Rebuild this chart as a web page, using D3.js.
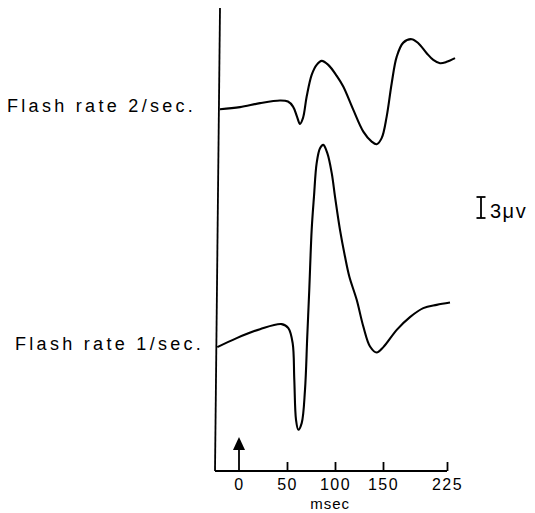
<!DOCTYPE html>
<html>
<head>
<meta charset="utf-8">
<script src="https://cdn.jsdelivr.net/npm/d3@7"></script>
<style>
  html, body { margin: 0; padding: 0; background: #fff; }
  svg { display: block; }
  text { font-family: "Liberation Sans", "DejaVu Sans", sans-serif; fill: #000; }
</style>
</head>
<body>
<svg id="chart" width="535" height="513"></svg>
<script>
// ---- data (time in msec after flash, amplitude in µV relative to pre-flash baseline) ----
const traceLabels = ["Flash rate 2/sec.", "Flash rate 1/sec."];

const time2 = [-19.8, 1.0, 21.9, 42.7, 51.0, 56.3, 60.4, 63.5, 66.7, 70.5, 75.7, 80.9, 86.1, 93.0,
  101.8, 108.6, 119.1, 129.5, 138.2, 143.4, 148.6, 154.3, 160.2, 166.1, 173.8, 183.6, 191.4,
  201.2, 208.9, 216.8, 224.6, 234.4];
const volt2 = [0, 0.29, 0.86, 1.23, 1.09, 0.37, -1.06, -2.1, -1.24, 1.8, 4.9, 6.33, 6.9, 6.33,
  4.76, 3.23, -0.1, -3.2, -4.63, -5.0, -4.14, -1.06, 3.71, 7.51, 9.51, 10.0, 9.43,
  8.0, 7.04, 6.57, 6.76, 7.29];

const time1 = [-22.6, -2.4, 21.9, 44.5, 51.4, 55.9, 57.6, 59.4, 61.8, 65.3, 68.75, 71.1, 73.2,
  75.7, 78.1, 80.9, 84.4, 87.8, 92.0, 96.6, 100, 105.2, 110.4, 114.9, 122.6, 129.5, 136.5,
  143.4, 150.4, 166.1, 181.6, 197.2, 212.9, 228.5];
const volt1 = [0, 1.29, 2.57, 3.29, 2.71, 0.57, -4.67, -10.39, -11.81, -10.86, -6.1, 1.51, 8.19,
  16.76, 21.51, 26.29, 28.43, 28.9, 27.71, 24.86, 21.51, 16.76, 12.94, 10.09, 6.76, 2.94, 0.09,
  -0.77, 0, 2.47, 4.29, 5.57, 6.04, 6.37];

const tickValues = [0, 50, 100, 150, 225];
const tickLabels = ["0", "50", "100", "150", "225"];
const xAxisTitle = "msec";
const scaleBarValue = 3;          // µV
const scaleBarLabel = "3\u03bcv";

// ---- layout ----
const svg = d3.select("#chart");
const baseY = 471;
const traceBaselines = [51.7, 17.7];   // vertical placement of each trace, in µV above the time axis

const x = d3.scaleLinear().domain([0, 150, 225]).range([239, 383, 447]);
const y = d3.scaleLinear().domain([0, 67.3]).range([baseY, 0]);

const line = d3.line()
  .x(d => x(d[0]))
  .y(d => y(d[1]))
  .curve(d3.curveCatmullRom.alpha(0.5));

const series = [
  { label: traceLabels[0], pts: time2.map((t, i) => [t, volt2[i] + traceBaselines[0]]) },
  { label: traceLabels[1], pts: time1.map((t, i) => [t, volt1[i] + traceBaselines[1]]) }
];

// traces
svg.selectAll("path.trace").data(series).enter().append("path")
  .attr("class", "trace")
  .attr("d", d => line(d.pts))
  .attr("fill", "none")
  .attr("stroke", "#000")
  .attr("stroke-width", 2.1)
  .attr("stroke-linejoin", "round");

// trace labels
svg.selectAll("text.lbl").data(series).enter().append("text")
  .attr("class", "lbl")
  .attr("x", (d, i) => i === 0 ? 7 : 15)
  .attr("y", d => y(d.pts[0][1]) + 3)
  .attr("font-size", 18)
  .attr("letter-spacing", 3.3)
  .text(d => d.label);

// vertical (amplitude) axis line
svg.append("line")
  .attr("x1", 220).attr("y1", 8)
  .attr("x2", 215).attr("y2", baseY)
  .attr("stroke", "#000").attr("stroke-width", 1.8);

// horizontal baseline
svg.append("line")
  .attr("x1", 215).attr("y1", baseY)
  .attr("x2", x(225)).attr("y2", baseY)
  .attr("stroke", "#000").attr("stroke-width", 1.8);

// time axis
const axis = d3.axisBottom(x)
  .tickValues(tickValues)
  .tickFormat((d, i) => tickLabels[i])
  .tickSizeInner(-9)
  .tickSizeOuter(0)
  .tickPadding(8);

const gAxis = svg.append("g")
  .attr("transform", `translate(0,${baseY})`)
  .call(axis);
gAxis.select(".domain").remove();
gAxis.selectAll(".tick line").attr("stroke", "#000").attr("stroke-width", 1.8);
gAxis.selectAll(".tick").filter(d => d === 0).select("line").remove();
gAxis.selectAll(".tick text")
  .attr("font-size", 16)
  .attr("letter-spacing", 1.4)
  .attr("font-family", "Liberation Sans, DejaVu Sans, sans-serif")
  .attr("fill", "#000");

svg.append("text")
  .attr("x", x(95))
  .attr("y", 509)
  .attr("text-anchor", "middle")
  .attr("font-size", 15)
  .attr("letter-spacing", 1)
  .text(xAxisTitle);

// flash arrow at t = 0
const ax = x(0);
svg.append("line")
  .attr("x1", ax).attr("y1", baseY)
  .attr("x2", ax).attr("y2", 448)
  .attr("stroke", "#000").attr("stroke-width", 1.8);
svg.append("path")
  .attr("d", `M${ax},437 L${ax - 6},450 L${ax + 6},450 Z`)
  .attr("fill", "#000");

// scale bar
const sbX = 481, sbBottom = 218;
const sbTop = sbBottom - (y(0) - y(scaleBarValue));
svg.append("line")
  .attr("x1", sbX).attr("y1", sbTop).attr("x2", sbX).attr("y2", sbBottom)
  .attr("stroke", "#000").attr("stroke-width", 1.8);
[sbTop, sbBottom].forEach(yy => {
  svg.append("line")
    .attr("x1", sbX - 4.5).attr("y1", yy).attr("x2", sbX + 4.5).attr("y2", yy)
    .attr("stroke", "#000").attr("stroke-width", 1.8);
});
svg.append("text")
  .attr("x", 490)
  .attr("y", 218)
  .attr("font-size", 20)
  .attr("letter-spacing", 1.5)
  .text(scaleBarLabel);
</script>
</body>
</html>
